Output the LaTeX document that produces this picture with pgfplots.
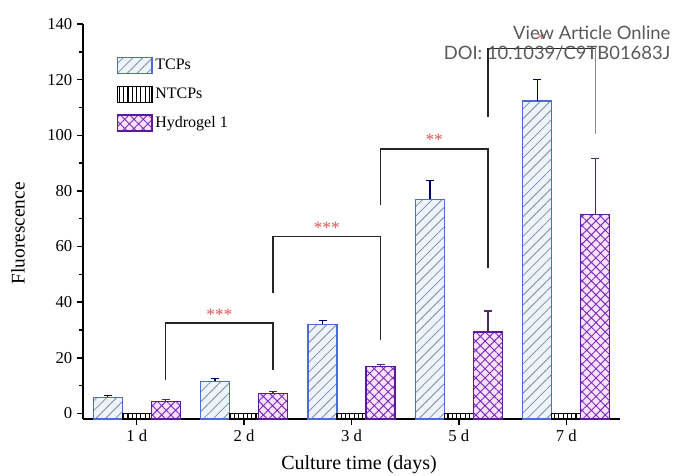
\documentclass[border=0pt]{standalone}
\usepackage{pgfplots}
\pgfplotsset{compat=1.18}
\usepackage{fontspec}
\setmainfont{Liberation Serif}
\newfontfamily\wmfont{Lato}
\usetikzlibrary{patterns.meta}
\definecolor{tcpborder}{HTML}{4A6CD4}
\definecolor{tcpfill}{HTML}{EEF4FC}
\definecolor{tcphatch}{HTML}{7D8CA6}
\definecolor{hydborder}{HTML}{5A1A9A}
\definecolor{hydfill}{HTML}{FBE2FB}
\definecolor{hydhatch}{HTML}{7A2FB8}
\definecolor{staR}{HTML}{E05555}
\begin{document}
\begin{tikzpicture}
\useasboundingbox (0,0) rectangle (504.75pt,356.25pt);
\begin{axis}[
  at={(62.25pt,42pt)}, anchor=south west,
  scale only axis, width=402.75pt, height=296.25pt,
  y coord trafo/.code={\pgfmathparse{#1+2}},
  y coord inv trafo/.code={\pgfmathparse{#1-2}},
  ybar=0pt, bar width=0.27,
  xmin=-0.5, xmax=4.5, ymin=-2, ymax=140,
  axis lines=left, axis line style={-, line width=1.1pt},
  tick align=outside, tick pos=left,
  major tick length=4.5pt, minor tick length=3pt,
  every tick/.style={line width=1.1pt, black},
  xtick={0,1,2,3,4}, xticklabels={1 d,2 d,3 d,5 d,7 d},
  ytick={0,20,40,60,80,100,120,140},
  yticklabels={0,20,40,60,80,100,120,140},
  minor ytick={10,30,50,70,90,110,130},
  ticklabel style={font=\fontsize{12.5}{14}\selectfont},
  xlabel={Culture time (days)},
  ylabel={Fluorescence},
  xlabel style={font=\fontsize{15}{17}\selectfont, at={(axis description cs:0.514,-0.1165)}, anchor=center},
  ylabel style={font=\fontsize{14.5}{17}\selectfont, at={(axis description cs:-0.121,0.47)}, anchor=center},
  legend cell align=left,
  legend style={at={(axis description cs:0.055,0.925)}, anchor=north west, draw=none, fill=none,
    font=\fontsize{12}{14}\selectfont, row sep=8pt},
  legend image code/.code={\draw[#1] (0pt,-6pt) rectangle (26pt,6pt);},
  error bars/y dir=plus, error bars/y explicit,
  clip=false,
]
\addplot[bar shift=-0.27, line width=0.9pt, draw=tcpborder, fill=tcpfill,
  postaction={pattern={Lines[angle=45,distance=5.2pt,line width=0.6pt]}, pattern color=tcphatch},
  error bars/error bar style={line width=1pt, color=black!40!blue!60!black, solid},
  error bars/error mark options={rotate=90, mark size=3pt, line width=1pt, color=black!40!blue!60!black}]
  coordinates {(0,5.8) +- (0,0.6) (1,11.5) +- (0,1.1) (2,32.0) +- (0,1.5) (3,77.0) +- (0,6.8) (4,112.3) +- (0,7.8)};
\addlegendentry{TCPs}
\addplot[bar shift=0, line width=0.9pt, draw=black, fill=white,
  postaction={pattern={Lines[angle=90,distance=3.2pt,line width=0.8pt]}, pattern color=black}]
  coordinates {(0,0) (1,0) (2,0) (3,0) (4,0)};
\addlegendentry{NTCPs}
\addplot[bar shift=0.27, line width=0.9pt, draw=hydborder, fill=hydfill,
  postaction={pattern={Hatch[angle=45,distance=4.9pt,line width=0.7pt]}, pattern color=hydhatch},
  error bars/error bar style={line width=1pt, color=black!50!hydborder!70!gray, solid},
  error bars/error mark options={rotate=90, mark size=3pt, line width=1pt, color=black!50!hydborder!70!gray}]
  coordinates {(0,4.4) +- (0,0.6) (1,7.1) +- (0,0.9) (2,16.9) +- (0,0.7) (3,29.3) +- (0,7.5) (4,71.6) +- (0,20.1)};
\addlegendentry{Hydrogel 1}
% significance brackets
\draw[line width=1.1pt, black!85] (axis cs:0.27,12.1) |- (axis cs:1.27,32.5) -- (axis cs:1.27,15.7);
\draw[line width=1.1pt, black!85] (axis cs:1.27,43.2) |- (axis cs:2.27,63.7) -- (axis cs:2.27,26.3);
\draw[line width=1.1pt, black!85] (axis cs:2.27,74.8) |- (axis cs:3.27,95.0) -- (axis cs:3.27,52.2);
\draw[line width=1.1pt, black!85] (axis cs:3.27,106.6) |- (axis cs:4.27,131.2);
\draw[line width=1.1pt, black!45] (axis cs:4.27,131.2) -- (axis cs:4.27,100.6);
\node[text=staR, font=\fontsize{13}{14}\selectfont] at (axis cs:0.77,35.5) {***};
\node[text=staR, font=\fontsize{13}{14}\selectfont] at (axis cs:1.77,66.7) {***};
\node[text=staR, font=\fontsize{13}{14}\selectfont] at (axis cs:2.77,98.5) {**};
\node[text=staR, font=\fontsize{13}{14}\selectfont] at (axis cs:3.77,134.5) {*};
\end{axis}
\node[anchor=north east, align=right, text=black!65, font=\wmfont\fontsize{13.8}{15}\selectfont, inner sep=0pt] at (503pt,337pt) {View Article Online\\DOI: 10.1039/C9TB01683J};
\end{tikzpicture}
\end{document}
